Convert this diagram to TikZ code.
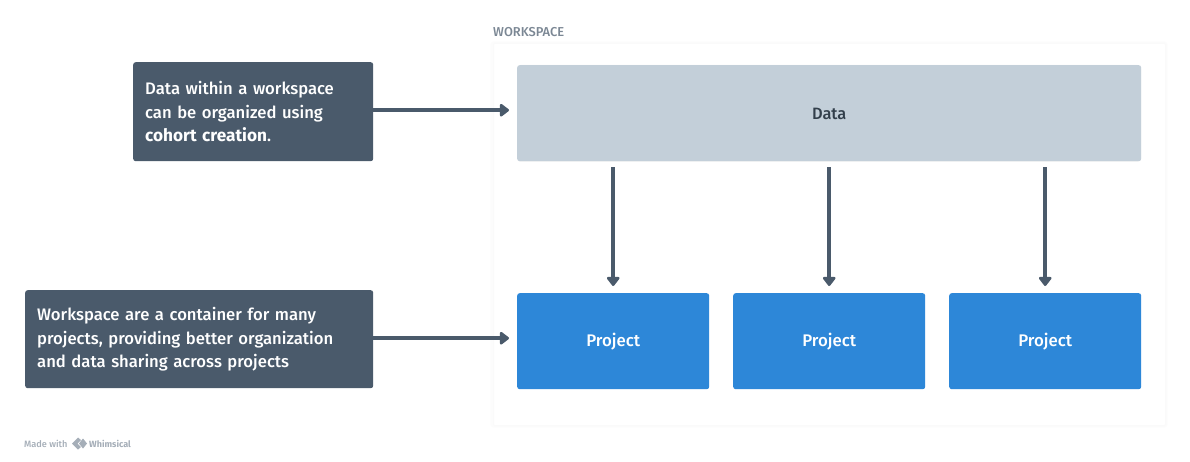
\documentclass[tikz,border=0pt]{standalone}
\usepackage{fontspec}
\setmainfont{Fira Sans}[UprightFont=* Medium,BoldFont=* Bold]
\usetikzlibrary{arrows.meta,calc}
\definecolor{slate}{HTML}{4A5A6B}
\definecolor{pale}{HTML}{C3CFD9}
\definecolor{azure}{HTML}{2D87D8}
\definecolor{inktext}{HTML}{323F4B}
\definecolor{wsgray}{HTML}{7B8794}
\definecolor{markgray}{HTML}{A5AEB8}
\tikzset{
 softedge/.style={draw=black!4,line width=2pt,rounded corners=3pt},
 notebox/.style={fill=slate,rounded corners=2.5pt,text=white,font=\fontsize{16.65}{23.6}\selectfont,align=left,inner xsep=12pt,inner ysep=0pt,anchor=north west},
 databox/.style={fill=pale,rounded corners=2.5pt,text=inktext,font=\fontsize{16.4}{20}\selectfont,anchor=north west,minimum width=624pt,minimum height=96pt,inner sep=0pt},
 projbox/.style={fill=azure,rounded corners=2.5pt,text=white,font=\fontsize{16.8}{20}\selectfont,anchor=north west,minimum width=192pt,minimum height=96pt,inner sep=0pt},
 flow/.style={draw=slate,line width=3.6pt,-{Triangle[length=10pt,width=14.5pt,round]}},
 wsframe/.style={fill=white,draw=black!2,line width=1pt,anchor=north west,minimum width=672pt,minimum height=382pt,inner sep=0pt,rounded corners=1pt},
 wshalo/.style={draw=black!1,line width=3pt,rounded corners=2pt},
}
\begin{document}
\begin{tikzpicture}[x=1pt,y=-1pt]
\useasboundingbox (0,0) rectangle (1190,462);
\fill[white] (0,0) rectangle (1190,462);
% workspace frame
\draw[wshalo] (492,43) rectangle (1166,426);
\node[wsframe] (ws) at (493,43) {};
\node[anchor=west,text=wsgray,font=\fontsize{12.9}{14}\selectfont,inner sep=0pt] (wslabel) at (493,32.5) {WORKSPACE};
% boxes
\draw[softedge] (518,66) rectangle (1140,161);
\node[databox,text depth=0pt] (data) at (517,65) {\raisebox{-1pt}{Data}};
\node[projbox] (p1) at (517,293) {\raisebox{-1pt}{Project}};
\node[projbox] (p2) at (733,293) {\raisebox{-1pt}{Project}};
\node[projbox] (p3) at (949,293) {\raisebox{-1pt}{Project}};
\node[notebox,minimum width=240pt,minimum height=99pt,text width=216pt] (n1) at (133,62) {Data within a workspace\\can be organized using\\{\fontsize{17.2}{23.6}\selectfont\bfseries cohort creation}.};
\node[notebox,minimum width=348pt,minimum height=98pt,text width=324pt] (n2) at (25,290) {Workspace are a container for many\\projects, providing better organization\\and data sharing across projects};
% connectors
\draw[flow,shorten >=8pt] ([yshift=1.5pt]n1.east) -- ([yshift=3pt]data.west);
\draw[flow,shorten >=8pt] ([yshift=1pt]n2.east) -- ([yshift=3pt]p1.west);
\draw[flow,shorten <=6pt,shorten >=7pt] (p1.north |- data.south) -- (p1.north);
\draw[flow,shorten <=6pt,shorten >=7pt] (p2.north |- data.south) -- (p2.north);
\draw[flow,shorten <=6pt,shorten >=7pt] (p3.north |- data.south) -- (p3.north);
% badge
\node[anchor=west,text=markgray,font=\fontsize{9.2}{11}\selectfont,inner sep=0pt] (made) at (24,443.5) {Made with};
\fill[markgray,even odd rule] (72,443.5) -- (78,437.5) -- (81,440) -- (77.5,443.5) -- (81,447) -- (78,449.5) -- cycle;
\fill[markgray] (79,443.5) -- (83,438.5) -- (87,443.5) -- (83,448.5) -- cycle;
\node[anchor=west,text=markgray,font=\fontsize{9}{11}\selectfont\bfseries,inner sep=0pt] (whim) at (89,443.5) {Whimsical};
\end{tikzpicture}
\end{document}
